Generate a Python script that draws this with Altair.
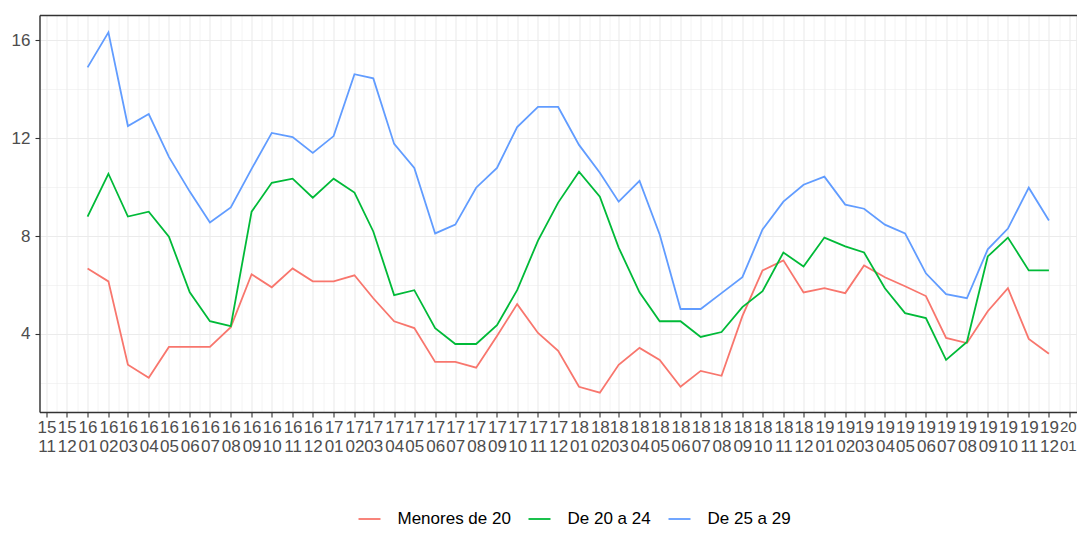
import altair as alt
import pandas as pd

# ---- data -------------------------------------------------------------
months = [f"{y}-{m:02d}-01" for y in range(2016, 2020) for m in range(1, 13)]

menores_de_20 = [6.68, 6.15, 2.74, 2.21, 3.47, 3.47, 3.47, 4.28, 6.44, 5.91, 6.68, 6.15,
                 6.15, 6.40, 5.46, 4.52, 4.24, 2.86, 2.86, 2.62, 3.92, 5.22, 4.04, 3.31,
                 1.84, 1.60, 2.74, 3.43, 2.94, 1.84, 2.49, 2.29, 4.73, 6.60, 7.01, 5.70,
                 5.87, 5.67, 6.80, 6.32, 5.95, 5.55, 3.84, 3.63, 4.93, 5.87, 3.80, 3.19]

de_20_a_24 = [8.80, 10.55, 8.80, 9.00, 7.98, 5.70, 4.52, 4.32, 9.00, 10.18, 10.35, 9.57,
              10.35, 9.78, 8.19, 5.59, 5.79, 4.24, 3.59, 3.59, 4.36, 5.79, 7.82, 9.37,
              10.63, 9.61, 7.53, 5.70, 4.52, 4.52, 3.88, 4.08, 5.10, 5.75, 7.33, 6.76,
              7.94, 7.58, 7.33, 5.87, 4.85, 4.65, 2.94, 3.67, 7.17, 7.94, 6.60, 6.60]

de_25_a_29 = [14.90, 16.33, 12.50, 12.99, 11.24, 9.82, 8.56, 9.17, 10.75, 12.22, 12.05, 11.40,
              12.09, 14.62, 14.45, 11.77, 10.79, 8.11, 8.47, 9.98, 10.79, 12.46, 13.28, 13.28,
              11.73, 10.59, 9.41, 10.26, 8.07, 5.02, 5.02, 5.67, 6.32, 8.27, 9.41, 10.10,
              10.43, 9.29, 9.12, 8.47, 8.11, 6.48, 5.63, 5.46, 7.46, 8.31, 9.98, 8.64]

groups = ["Menores de 20", "De 20 a 24", "De 25 a 29"]
colors = ["#F8766D", "#00BA38", "#619CFF"]
y_major = [4, 8, 12, 16]
y_minor = [2, 6, 10, 14]

series = {groups[0]: menores_de_20, groups[1]: de_20_a_24, groups[2]: de_25_a_29}
rows = []
for g in groups:
    for d, v in zip(months, series[g]):
        rows.append({"fecha": d, "grupo": g, "valor": v})
df = pd.DataFrame(rows)

# ---- scales -------------------------------------------------------------
DAY = 86400000.0


def ms(s):
    return pd.Timestamp(s, tz="UTC").value / 1e6


first, last = ms(months[0]), ms(months[-1])
span_days = (last - first) / DAY
W, H = 1037, 397
full_w = 1057.5
px_per_day = full_w / (span_days * 1.1)
x_start = first - span_days * 0.05 * DAY
x_end = x_start + W / px_per_day * DAY

tick_months = [f"{y}-{m:02d}-01" for y in range(2015, 2021) for m in range(1, 13)]
tick_ms = [ms(t) for t in tick_months]
x_major = [t for t in tick_ms if x_start <= t <= x_end]
x_minor = [(a + b) / 2 for a, b in zip(tick_ms[:-1], tick_ms[1:]) if x_start <= (a + b) / 2 <= x_end]

xscale = alt.Scale(type="utc", domain=[x_start, x_end], nice=False)
yscale = alt.Scale(domain=[0.81, 17.04], nice=False, zero=False)

FONT = "Liberation Sans"
BORDER = "#333333"
GRID = "#EBEBEB"

x_label_size = {"condition": {"test": f"datum.value > {x_major[-2]}", "value": 15}, "value": 17}

x_axis_major = alt.Axis(
    orient="bottom", values=x_major, title=None,
    labelExpr="[utcFormat(datum.value, '%y'), utcFormat(datum.value, '%m')]",
    labelOverlap=False, labelFlush=6.9, labelFlushOffset=6.3,
    labelFont=FONT, labelFontSize=x_label_size,
    labelColor="#4D4D4D", labelPadding=2, labelLineHeight=19,
    grid=True, gridColor=GRID, gridWidth=1.1,
    domain=True, domainColor=BORDER, domainWidth=1.4,
    ticks=True, tickColor=BORDER, tickWidth=1.1, tickSize=5,
)
y_axis_major = alt.Axis(
    orient="left", values=y_major, title=None, format="d",
    labelFont=FONT, labelFontSize=17, labelColor="#4D4D4D", labelPadding=5,
    grid=True, gridColor=GRID, gridWidth=1.1,
    domain=True, domainColor=BORDER, domainWidth=1.4,
    ticks=True, tickColor=BORDER, tickWidth=1.1, tickSize=4.5,
)
x_axis_minor = alt.Axis(orient="bottom", values=x_minor, title=None, labels=False,
                        ticks=False, domain=False, grid=True, gridColor=GRID, gridWidth=0.55)
y_axis_minor = alt.Axis(orient="left", values=y_minor, title=None, labels=False,
                        ticks=False, domain=False, grid=True, gridColor=GRID, gridWidth=0.55)
x_axis_top = alt.Axis(orient="top", title=None, labels=False, ticks=False, grid=False,
                      domain=True, domainColor=BORDER, domainWidth=1.4)

base = alt.Chart(df)

minor = base.mark_point(opacity=0).encode(
    x=alt.X("fecha:T", scale=xscale, axis=x_axis_minor),
    y=alt.Y("valor:Q", scale=yscale, axis=y_axis_minor),
)
top = base.mark_point(opacity=0).encode(
    x=alt.X("fecha:T", scale=xscale, axis=x_axis_top),
    y=alt.Y("valor:Q", scale=yscale, axis=None),
)
lines = base.mark_line(strokeWidth=1.8).encode(
    x=alt.X("fecha:T", scale=xscale, axis=x_axis_major),
    y=alt.Y("valor:Q", scale=yscale, axis=y_axis_major),
    color=alt.Color(
        "grupo:N",
        scale=alt.Scale(domain=groups, range=colors),
        sort=groups,
        legend=alt.Legend(
            orient="none", direction="horizontal", legendX=318, legendY=492,
            title=None, symbolType="stroke", symbolSize=484, symbolStrokeWidth=1.8,
            labelFont=FONT, labelFontSize=17, labelColor="#000000",
            labelOffset=16, columnPadding=13,
        ),
    ),
)

chart = alt.layer(minor, top, lines).resolve_axis(x="independent", y="independent").properties(
    width=W, height=H,
    padding={"left": 31.5, "top": 7, "right": 0, "bottom": 118},
    autosize=alt.AutoSizeParams(type="none"),
).configure_view(stroke=None).configure(background="white")

chart.save("out.html", embed_options={"renderer": "svg", "actions": False})
